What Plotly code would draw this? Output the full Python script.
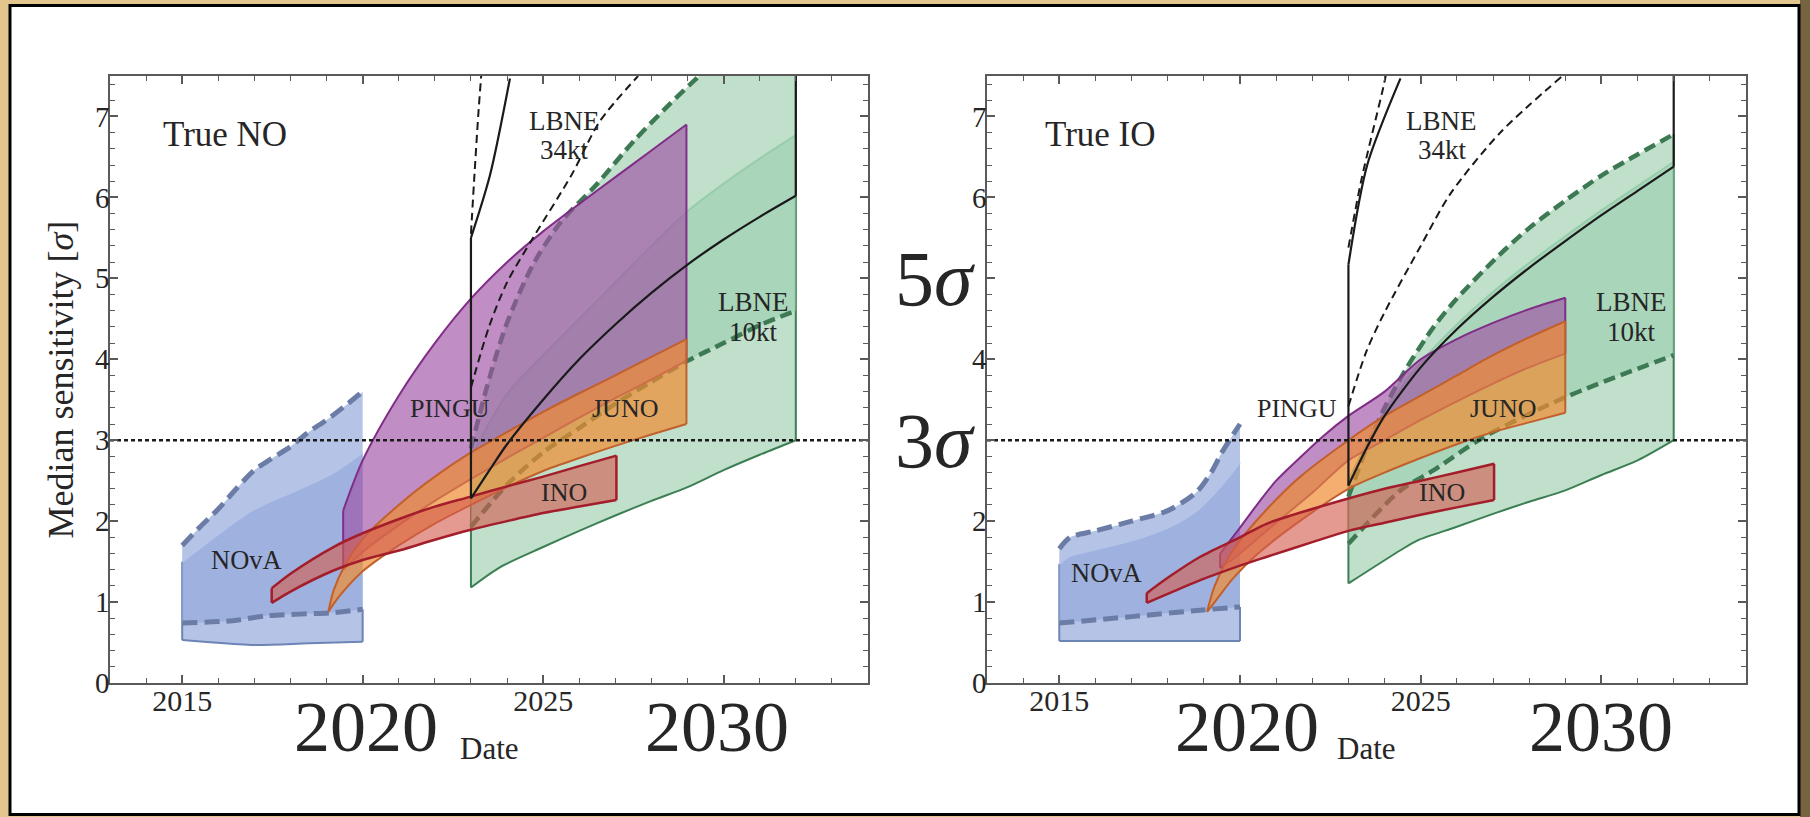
import plotly.graph_objects as go

W, H = 1810, 817
SERIF = "Liberation Serif, Times New Roman, serif"

# ---------------- axis limits ----------------
X_MIN, X_MAX = 2013, 2034
Y_MIN, Y_MAX = 0, 7.5
SIGMA_LINE = 3

# ---------------- left panel: true normal ordering ----------------
# NOvA (two overlapping bands: solid-edged A, dashed-edged B)
NO_NOVA_A_LO_X = [2015, 2015.6, 2017, 2018.5, 2020]
NO_NOVA_A_LO_Y = [0.53, 0.51, 0.47, 0.49, 0.51]
NO_NOVA_A_HI_X = [2015, 2016, 2017, 2018.26, 2019.19, 2020]
NO_NOVA_A_HI_Y = [1.50, 1.84, 2.15, 2.40, 2.60, 2.85]
NO_NOVA_B_LO_X = [2015, 2016.4, 2017.34, 2019.19, 2020]
NO_NOVA_B_LO_Y = [0.74, 0.77, 0.83, 0.87, 0.91]
NO_NOVA_B_HI_X = [2015, 2015.5, 2016, 2016.5, 2017, 2017.5, 2018, 2018.5, 2019, 2019.5, 2020]
NO_NOVA_B_HI_Y = [1.70, 1.93, 2.15, 2.40, 2.63, 2.78, 2.92, 3.10, 3.25, 3.42, 3.60]

# PINGU
NO_PINGU_X = [2019.46, 2020, 2021, 2022, 2023, 2024, 2025, 2026, 2027, 2028, 2028.97]
NO_PINGU_HI_Y = [2.13, 2.75, 3.55, 4.20, 4.75, 5.20, 5.58, 5.92, 6.25, 6.58, 6.90]
NO_PINGU_LO_Y = [1.40, 1.62, 1.95, 2.25, 2.52, 2.78, 3.03, 3.28, 3.52, 3.75, 3.98]

# JUNO
NO_JUNO_X = [2019.05, 2019.2, 2019.5, 2020, 2021, 2022, 2023, 2024, 2025, 2026, 2027, 2028, 2028.97]
NO_JUNO_HI_Y = [0.88, 1.15, 1.45, 1.78, 2.20, 2.55, 2.85, 3.10, 3.35, 3.58, 3.80, 4.03, 4.25]
NO_JUNO_LO_Y = [0.88, 0.98, 1.15, 1.38, 1.70, 1.97, 2.20, 2.42, 2.62, 2.78, 2.93, 3.07, 3.20]

# INO
NO_INO_X = [2017.48, 2018, 2019.19, 2020, 2021.03, 2022, 2022.97, 2024, 2025, 2026, 2027.03]
NO_INO_HI_Y = [1.17, 1.35, 1.68, 1.85, 2.03, 2.18, 2.30, 2.43, 2.55, 2.68, 2.81]
NO_INO_LO_Y = [0.99, 1.13, 1.39, 1.52, 1.64, 1.77, 1.89, 2.00, 2.10, 2.18, 2.26]

# LBNE 10 kt
NO_L10_A_LO_X = [2023, 2023.8, 2025, 2026, 2027, 2028, 2029, 2030, 2031, 2032]
NO_L10_A_LO_Y = [1.18, 1.43, 1.68, 1.88, 2.07, 2.25, 2.42, 2.63, 2.82, 3.00]
NO_L10_A_HI_X = [2023, 2024, 2025, 2026, 2027, 2028, 2029, 2030, 2031, 2032]
NO_L10_A_HI_Y = [2.80, 3.57, 4.05, 4.50, 4.95, 5.40, 5.83, 6.17, 6.48, 6.77]
NO_L10_B_LO_X = [2023, 2024, 2025, 2026, 2027, 2028, 2029, 2030, 2031, 2032]
NO_L10_B_LO_Y = [1.93, 2.45, 2.85, 3.15, 3.45, 3.72, 3.98, 4.20, 4.42, 4.60]
NO_L10_B_HI_X = [2023, 2023.5, 2024, 2024.72, 2025.5, 2026.48, 2027.5, 2028.5, 2029.25, 2030.5, 2032]
NO_L10_B_HI_Y = [2.90, 3.75, 4.45, 5.17, 5.70, 6.16, 6.69, 7.15, 7.47, 8.00, 8.60]

# LBNE 34 kt (outline only)
NO_L34_LO_X = [2023, 2023.5, 2024, 2025, 2026, 2027, 2028, 2029, 2030, 2031, 2032]
NO_L34_LO_Y = [2.28, 2.62, 2.95, 3.50, 4.00, 4.43, 4.82, 5.17, 5.48, 5.76, 6.02]
NO_L34_HI_X = [2023, 2023.53, 2024.08]
NO_L34_HI_Y = [5.50, 6.28, 7.47]
NO_L34_DLO_X = [2023, 2023.5, 2024, 2024.72, 2025.79, 2026.57, 2027.63]
NO_L34_DLO_Y = [3.65, 4.40, 4.95, 5.50, 6.28, 6.94, 7.50]
NO_L34_DHI_X = [2023, 2023.1, 2023.2, 2023.3]
NO_L34_DHI_Y = [5.55, 6.30, 7.00, 7.60]

# ---------------- right panel: true inverted ordering ----------------
IO_NOVA_A_LO_X = [2015, 2020]
IO_NOVA_A_LO_Y = [0.52, 0.52]
IO_NOVA_A_HI_X = [2015, 2015.3, 2016, 2017, 2018, 2018.8, 2019.45, 2020]
IO_NOVA_A_HI_Y = [1.47, 1.57, 1.65, 1.76, 1.92, 2.13, 2.42, 2.73]
IO_NOVA_B_LO_X = [2015, 2017, 2018.9, 2020]
IO_NOVA_B_LO_Y = [0.74, 0.82, 0.90, 0.94]
IO_NOVA_B_HI_X = [2015, 2015.3, 2016, 2017, 2018, 2018.8, 2019.2, 2019.5, 2020]
IO_NOVA_B_HI_Y = [1.66, 1.80, 1.88, 2.00, 2.13, 2.36, 2.60, 2.85, 3.20]

IO_PINGU_HI_X = [2019.45, 2020, 2020.5, 2021, 2021.67, 2022.3, 2023, 2024, 2025, 2026, 2027, 2028, 2029]
IO_PINGU_HI_Y = [1.60, 1.92, 2.22, 2.50, 2.79, 3.05, 3.30, 3.60, 4.00, 4.25, 4.45, 4.62, 4.76]
IO_PINGU_LO_X = [2019.45, 2020, 2021, 2022, 2023, 2024, 2025, 2026, 2027, 2028, 2029]
IO_PINGU_LO_Y = [1.42, 1.60, 1.98, 2.35, 2.75, 3.00, 3.25, 3.48, 3.70, 3.90, 4.07]

IO_JUNO_HI_X = [2019.09, 2019.3, 2019.82, 2020.75, 2021.67, 2023, 2024, 2025, 2026, 2027, 2028, 2029]
IO_JUNO_HI_Y = [0.88, 1.20, 1.65, 2.15, 2.55, 3.00, 3.30, 3.55, 3.80, 4.05, 4.27, 4.47]
IO_JUNO_LO_X = [2019.09, 2019.3, 2019.82, 2020.5, 2021.5, 2023, 2024, 2025, 2026, 2027, 2028, 2029]
IO_JUNO_LO_Y = [0.88, 1.00, 1.30, 1.60, 1.95, 2.40, 2.60, 2.78, 2.95, 3.10, 3.22, 3.34]

IO_INO_X = [2017.42, 2018, 2018.9, 2020, 2020.75, 2022, 2023, 2024, 2025, 2026, 2027.03]
IO_INO_HI_Y = [1.11, 1.30, 1.56, 1.80, 1.97, 2.15, 2.28, 2.40, 2.50, 2.60, 2.71]
IO_INO_LO_Y = [0.99, 1.10, 1.27, 1.45, 1.56, 1.74, 1.88, 1.98, 2.08, 2.17, 2.26]

IO_L10_A_LO_X = [2023, 2024.44, 2024.9, 2026, 2027, 2028, 2029, 2030, 2031, 2032]
IO_L10_A_LO_Y = [1.23, 1.64, 1.76, 1.93, 2.09, 2.24, 2.38, 2.57, 2.75, 3.00]
IO_L10_A_HI_X = [2023, 2023.5, 2024, 2025, 2026, 2027, 2028, 2029, 2030, 2031, 2032]
IO_L10_A_HI_Y = [2.50, 2.96, 3.36, 3.96, 4.43, 4.83, 5.19, 5.52, 5.84, 6.14, 6.44]
IO_L10_B_LO_X = [2023, 2024.44, 2025.36, 2026.75, 2029, 2032]
IO_L10_B_LO_Y = [1.72, 2.38, 2.63, 3.04, 3.53, 4.05]
IO_L10_B_HI_X = [2023, 2023.5, 2024, 2024.62, 2025.36, 2026, 2027.2, 2028, 2028.97, 2030, 2031, 2032]
IO_L10_B_HI_Y = [2.30, 2.90, 3.40, 3.90, 4.40, 4.75, 5.30, 5.62, 5.95, 6.27, 6.53, 6.78]

IO_L34_LO_X = [2023, 2023.5, 2024, 2025, 2026, 2027, 2028, 2029, 2030, 2031, 2032]
IO_L34_LO_Y = [2.44, 2.90, 3.30, 3.90, 4.37, 4.77, 5.13, 5.46, 5.78, 6.08, 6.38]
IO_L34_HI_X = [2023, 2023.52, 2024.44]
IO_L34_HI_Y = [5.17, 6.40, 7.47]
IO_L34_DLO_X = [2023, 2023.5, 2024, 2025, 2025.83, 2027.2, 2028.92]
IO_L34_DLO_Y = [3.42, 4.10, 4.58, 5.40, 6.05, 6.80, 7.50]
IO_L34_DHI_X = [2023, 2023.35, 2023.98, 2024.05]
IO_L34_DHI_Y = [5.38, 6.20, 7.39, 7.55]

# ---------------- text ----------------
X_TICKS = [2015, 2020, 2025, 2030]
X_TICK_TEXT = ["2015", "", "2025", ""]
BIG_X_LABELS = ["2020", "2030"]
Y_TICKS = [0, 1, 2, 3, 4, 5, 6, 7]
Y_TICK_TEXT_L = ["0", "1", "2", "3", "4", "5", "6", "7"]
Y_TICK_TEXT_R = ["0", "1", "2", "", "4", "", "6", "7"]
BIG_Y_LABELS = [(5, "5<i>σ</i>"), (3, "3<i>σ</i>")]

# ---------------- colours ----------------
C_NOVA = "rgba(149,171,219,0.70)"
C_NOVA_EDGE = "#6d84b6"
C_NOVA_MID = "#b3c4e8"
C_NOVA_DASH = "#6b7da6"
C_GREEN = "rgba(157,207,175,0.64)"
C_GREEN_EDGE = "#3b7f52"
C_GREEN_MID = "#8fc9a5"
C_GREEN_DASH = "#3d7a53"
C_PINGU = "rgba(160,82,166,0.66)"
C_PINGU_EDGE = "#7f2d86"
C_JUNO = "rgba(240,140,50,0.70)"
C_JUNO_EDGE = "#c2602c"
C_INO = "rgba(212,92,78,0.62)"
C_INO_EDGE = "#a31d2b"
C_BLACK = "#1a1a1a"
C_TEXT = "#262626"

fig = go.Figure()


def line(x, y, ax, color, width, dash=None, fill=None, fillcolor=None, shape="spline"):
    fig.add_trace(go.Scatter(
        x=x, y=y, mode="lines",
        line=dict(color=color, width=width, dash=dash, shape=shape, smoothing=0.8),
        fill=fill, fillcolor=fillcolor,
        xaxis="x" if ax == 1 else "x2", yaxis="y" if ax == 1 else "y2",
        showlegend=False, hoverinfo="skip"))


def band(lx, ly, hx, hy, ax, fillcolor, lo=None, hi=None):
    lo = lo or dict(color="rgba(0,0,0,0)", width=0)
    hi = hi or dict(color="rgba(0,0,0,0)", width=0)
    line(lx, ly, ax, lo["color"], lo["width"], lo.get("dash"))
    line(hx, hy, ax, hi["color"], hi["width"], hi.get("dash"), fill="tonexty", fillcolor=fillcolor)


def vline(x, y0, y1, ax, color, width):
    line([x, x], [y0, y1], ax, color, width, shape="linear")


DASH_GREEN = "12px,6px"
DASH_NOVA = "15px,7px"
DASH_BLACK = "8px,5px"
DOT_SIGMA = "4px,3px"


def panel(ax, d):
    # LBNE 10 kt: solid-edged band
    band(d["l10_alx"], d["l10_aly"], d["l10_ahx"], d["l10_ahy"], ax, C_GREEN,
         lo=dict(color=C_GREEN_EDGE, width=2), hi=dict(color=C_GREEN_MID, width=2))
    vline(d["l10_alx"][0], d["l10_aly"][0], d["l10_ahy"][0], ax, C_GREEN_EDGE, 2)
    vline(d["l10_alx"][-1], d["l10_aly"][-1], d["l10_right_top"], ax, C_GREEN_EDGE, 2)
    # LBNE 10 kt: dashed-edged band
    band(d["l10_blx"], d["l10_bly"], d["l10_bhx"], d["l10_bhy"], ax, C_GREEN,
         lo=dict(color=C_GREEN_DASH, width=4.5, dash=DASH_GREEN),
         hi=dict(color=C_GREEN_DASH, width=4.5, dash=DASH_GREEN))

    # NOvA
    band(d["nova_alx"], d["nova_aly"], d["nova_ahx"], d["nova_ahy"], ax, C_NOVA,
         lo=dict(color=C_NOVA_EDGE, width=2))
    vline(d["nova_alx"][0], d["nova_aly"][0], d["nova_ahy"][0], ax, C_NOVA_EDGE, 2)
    vline(d["nova_alx"][-1], d["nova_aly"][-1], d["nova_bly"][-1], ax, C_NOVA_EDGE, 2)
    band(d["nova_blx"], d["nova_bly"], d["nova_bhx"], d["nova_bhy"], ax, C_NOVA,
         lo=dict(color=C_NOVA_DASH, width=5, dash=DASH_NOVA),
         hi=dict(color=C_NOVA_DASH, width=5, dash=DASH_NOVA))
    line(d["nova_ahx"], d["nova_ahy"], ax, C_NOVA_MID, 2)

    # PINGU
    band(d["pingu_lx"], d["pingu_ly"], d["pingu_hx"], d["pingu_hy"], ax, C_PINGU,
         lo=dict(color=C_PINGU_EDGE, width=2), hi=dict(color=C_PINGU_EDGE, width=2))
    vline(d["pingu_lx"][0], d["pingu_ly"][0], d["pingu_hy"][0], ax, C_PINGU_EDGE, 2)
    vline(d["pingu_lx"][-1], d["pingu_ly"][-1], d["pingu_hy"][-1], ax, C_PINGU_EDGE, 2)

    # JUNO
    band(d["juno_lx"], d["juno_ly"], d["juno_hx"], d["juno_hy"], ax, C_JUNO,
         lo=dict(color=C_JUNO_EDGE, width=2), hi=dict(color=C_JUNO_EDGE, width=2))
    vline(d["juno_lx"][-1], d["juno_ly"][-1], d["juno_hy"][-1], ax, C_JUNO_EDGE, 2)

    # INO
    band(d["ino_x"], d["ino_ly"], d["ino_x"], d["ino_hy"], ax, C_INO,
         lo=dict(color=C_INO_EDGE, width=2.5), hi=dict(color=C_INO_EDGE, width=2.5))
    vline(d["ino_x"][0], d["ino_ly"][0], d["ino_hy"][0], ax, C_INO_EDGE, 2.5)
    vline(d["ino_x"][-1], d["ino_ly"][-1], d["ino_hy"][-1], ax, C_INO_EDGE, 2.5)

    # LBNE 34 kt outlines
    line(d["l34_lx"], d["l34_ly"], ax, C_BLACK, 2.2)
    line(d["l34_hx"], d["l34_hy"], ax, C_BLACK, 2.2)
    vline(d["l34_lx"][0], d["l34_ly"][0], d["l34_hy"][0], ax, C_BLACK, 2.2)
    vline(d["l34_lx"][-1], d["l34_ly"][-1], Y_MAX, ax, C_BLACK, 2.2)
    line(d["l34_dlx"], d["l34_dly"], ax, C_BLACK, 2, DASH_BLACK)
    line(d["l34_dhx"], d["l34_dhy"], ax, C_BLACK, 2, DASH_BLACK)

    # 3 sigma reference
    line([X_MIN, X_MAX], [SIGMA_LINE, SIGMA_LINE], ax, C_BLACK, 2.5, DOT_SIGMA, shape="linear")


panel(1, dict(
    l10_alx=NO_L10_A_LO_X, l10_aly=NO_L10_A_LO_Y, l10_ahx=NO_L10_A_HI_X, l10_ahy=NO_L10_A_HI_Y,
    l10_blx=NO_L10_B_LO_X, l10_bly=NO_L10_B_LO_Y, l10_bhx=NO_L10_B_HI_X, l10_bhy=NO_L10_B_HI_Y,
    l10_right_top=Y_MAX,
    nova_alx=NO_NOVA_A_LO_X, nova_aly=NO_NOVA_A_LO_Y, nova_ahx=NO_NOVA_A_HI_X, nova_ahy=NO_NOVA_A_HI_Y,
    nova_blx=NO_NOVA_B_LO_X, nova_bly=NO_NOVA_B_LO_Y, nova_bhx=NO_NOVA_B_HI_X, nova_bhy=NO_NOVA_B_HI_Y,
    pingu_lx=NO_PINGU_X, pingu_ly=NO_PINGU_LO_Y, pingu_hx=NO_PINGU_X, pingu_hy=NO_PINGU_HI_Y,
    juno_lx=NO_JUNO_X, juno_ly=NO_JUNO_LO_Y, juno_hx=NO_JUNO_X, juno_hy=NO_JUNO_HI_Y,
    ino_x=NO_INO_X, ino_ly=NO_INO_LO_Y, ino_hy=NO_INO_HI_Y,
    l34_lx=NO_L34_LO_X, l34_ly=NO_L34_LO_Y, l34_hx=NO_L34_HI_X, l34_hy=NO_L34_HI_Y,
    l34_dlx=NO_L34_DLO_X, l34_dly=NO_L34_DLO_Y, l34_dhx=NO_L34_DHI_X, l34_dhy=NO_L34_DHI_Y,
))

panel(2, dict(
    l10_alx=IO_L10_A_LO_X, l10_aly=IO_L10_A_LO_Y, l10_ahx=IO_L10_A_HI_X, l10_ahy=IO_L10_A_HI_Y,
    l10_blx=IO_L10_B_LO_X, l10_bly=IO_L10_B_LO_Y, l10_bhx=IO_L10_B_HI_X, l10_bhy=IO_L10_B_HI_Y,
    l10_right_top=IO_L10_B_HI_Y[-1],
    nova_alx=IO_NOVA_A_LO_X, nova_aly=IO_NOVA_A_LO_Y, nova_ahx=IO_NOVA_A_HI_X, nova_ahy=IO_NOVA_A_HI_Y,
    nova_blx=IO_NOVA_B_LO_X, nova_bly=IO_NOVA_B_LO_Y, nova_bhx=IO_NOVA_B_HI_X, nova_bhy=IO_NOVA_B_HI_Y,
    pingu_lx=IO_PINGU_LO_X, pingu_ly=IO_PINGU_LO_Y, pingu_hx=IO_PINGU_HI_X, pingu_hy=IO_PINGU_HI_Y,
    juno_lx=IO_JUNO_LO_X, juno_ly=IO_JUNO_LO_Y, juno_hx=IO_JUNO_HI_X, juno_hy=IO_JUNO_HI_Y,
    ino_x=IO_INO_X, ino_ly=IO_INO_LO_Y, ino_hy=IO_INO_HI_Y,
    l34_lx=IO_L34_LO_X, l34_ly=IO_L34_LO_Y, l34_hx=IO_L34_HI_X, l34_hy=IO_L34_HI_Y,
    l34_dlx=IO_L34_DLO_X, l34_dly=IO_L34_DLO_Y, l34_dhx=IO_L34_DHI_X, l34_dhy=IO_L34_DHI_Y,
))

# ---------------- axes ----------------
AX_COLOR = "#5a5a5a"
y_dom = [1 - 683 / H, 1 - 76 / H]


def xaxis(dom, anchor):
    return dict(domain=dom, anchor=anchor, range=[X_MIN, X_MAX], showgrid=False, zeroline=False,
                automargin=False,
                showline=True, linecolor=AX_COLOR, linewidth=1.5, mirror="allticks",
                ticks="inside", ticklen=8, tickwidth=1.5, tickcolor=AX_COLOR,
                tickmode="array", tickvals=X_TICKS, ticktext=X_TICK_TEXT, ticklabelstandoff=-10,
                tickfont=dict(family=SERIF, size=30, color=C_TEXT),
                minor=dict(tickmode="linear", tick0=X_MIN, dtick=1, ticks="inside",
                           ticklen=5, tickwidth=1.2, tickcolor=AX_COLOR))


def yaxis(anchor, ticktext):
    return dict(domain=y_dom, anchor=anchor, range=[Y_MIN, Y_MAX], showgrid=False, zeroline=False,
                automargin=False,
                showline=True, linecolor=AX_COLOR, linewidth=1.5, mirror="allticks",
                ticks="inside", ticklen=8, tickwidth=1.5, tickcolor=AX_COLOR,
                tickmode="array", tickvals=Y_TICKS, ticktext=ticktext, ticklabelstandoff=-7,
                tickfont=dict(family=SERIF, size=29, color=C_TEXT),
                minor=dict(tickmode="linear", tick0=0, dtick=0.2, ticks="inside",
                           ticklen=5, tickwidth=1.2, tickcolor=AX_COLOR))


fig.update_layout(
    width=W, height=H, margin=dict(l=0, r=0, t=0, b=0, autoexpand=False),
    paper_bgcolor="#e2c68d", plot_bgcolor="white", showlegend=False,
    xaxis=xaxis([110 / W, 868 / W], "y"), yaxis=yaxis("x", Y_TICK_TEXT_L),
    xaxis2=xaxis([987 / W, 1746 / W], "y2"), yaxis2=yaxis("x2", Y_TICK_TEXT_R),
)

# page frame
fig.add_shape(type="rect", xref="paper", yref="paper", x0=1800 / W, x1=1, y0=0, y1=1,
              fillcolor="#76633f", line=dict(width=0), layer="below")
fig.add_shape(type="rect", xref="paper", yref="paper", x0=10 / W, x1=1799 / W,
              y0=1 - 814.5 / H, y1=1 - 5.5 / H,
              fillcolor="white", line=dict(color="black", width=3), layer="below")

# ---------------- annotations ----------------
ann = []


def text(x, y, s, size, ax=1, xref=None, yref=None, xanchor="center", yanchor="middle", **kw):
    ann.append(dict(x=x, y=y, text=s, showarrow=False,
                    xref=xref or ("x" if ax == 1 else "x2"),
                    yref=yref or ("y" if ax == 1 else "y2"),
                    xanchor=xanchor, yanchor=yanchor,
                    font=dict(family=SERIF, size=size, color=C_TEXT), **kw))


for ax, title, tx, px, nx, ny in [(1, "True NO", 2016.19, 2022.42, 2016.77, 1.52),
                                  (2, "True IO", 2016.13, 2021.59, 2016.32, 1.36)]:
    text(tx, 6.78, title, 35, ax)
    text(2025.58, 6.95, "LBNE", 27, ax)
    text(2025.6, 6.58, "34kt", 27, ax)
    text(2030.82, 4.71, "LBNE", 27, ax)
    text(2030.82, 4.34, "10kt", 27, ax)
    text(px, 3.39, "PINGU", 26, ax)
    text(2027.27, 3.39, "JUNO", 26, ax)
    text(2025.58, 2.35, "INO", 26, ax)
    text(nx, ny, "NOvA", 26.5, ax)

# oversized year labels under the x axes
for ax, x20, x30 in [(1, 2020.08, 2029.83), (2, 2020.2, 2030.0)]:
    text(x20, 1 - 727 / H, BIG_X_LABELS[0], 72, ax, yref="paper")
    text(x30, 1 - 727 / H, BIG_X_LABELS[1], 72, ax, yref="paper")

# axis titles
text(489 / W, 1 - 748 / H, "Date", 31, xref="paper", yref="paper")
text(1366 / W, 1 - 748 / H, "Date", 31, xref="paper", yref="paper")
text(60 / W, (y_dom[0] + y_dom[1]) / 2, "Median sensitivity [<i>σ</i>]", 36,
     xref="paper", yref="paper", textangle=-90)

# oversized sigma labels on the right panel's y axis
for val, s in BIG_Y_LABELS:
    text(977 / W, val, s, 78, xref="paper", yref="y2", xanchor="right")

fig.update_layout(annotations=ann)
fig.write_html("out.html")
